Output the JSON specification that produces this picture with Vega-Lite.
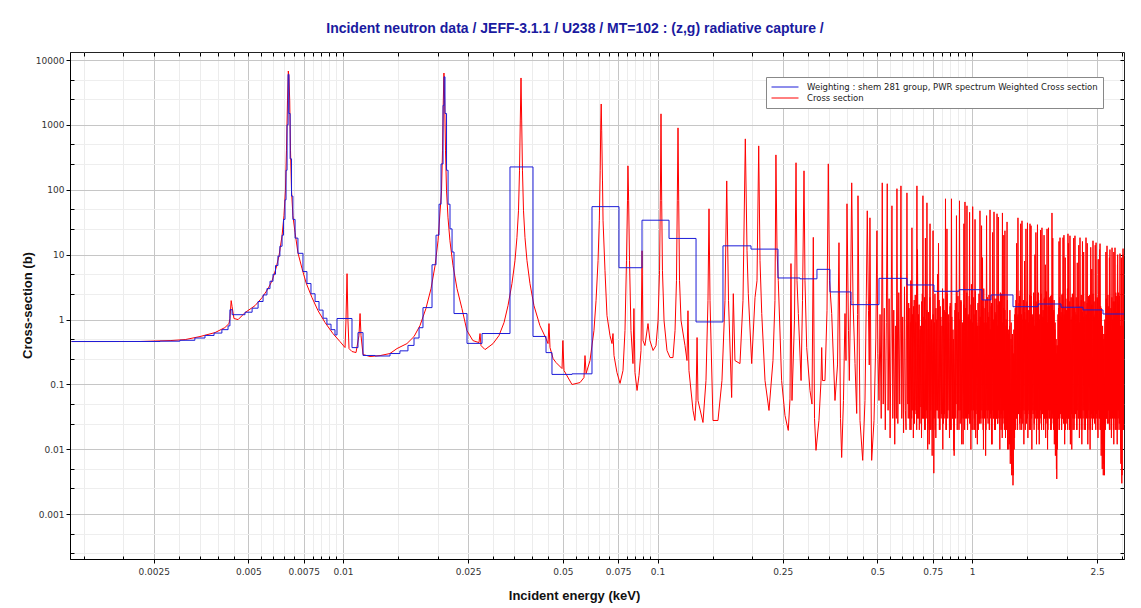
{
"$schema": "https://vega.github.io/schema/vega-lite/v6.json",
"width": 1054, "height": 507,
"autosize": {"type": "none"},
"padding": {"left": 70, "top": 52, "right": 17, "bottom": 49},
"background": "white",
"config": {"view": {"stroke": "#222", "strokeWidth": 1}},
"title": {"text": "Incident neutron data / JEFF-3.1.1 / U238 / MT=102 : (z,g) radiative capture /", "font": "Liberation Sans", "fontSize": 14, "fontWeight": "bold", "color": "#1a1aa0", "anchor": "middle", "dx": -22, "offset": 16},
"datasets": {
"pointwise": [
{"energy":0.00137,"xs":0.459},{"energy":0.00169,"xs":0.459},{"energy":0.00226,"xs":0.46},{"energy":0.00282,"xs":0.475},{"energy":0.00315,"xs":0.492},{"energy":0.00351,"xs":0.548},{"energy":0.00392,"xs":0.631},{"energy":0.00421,"xs":0.753},{"energy":0.00434,"xs":0.868},{"energy":0.00437,"xs":1.04},{"energy":0.00441,"xs":1.96},{"energy":0.00444,"xs":1.58},{"energy":0.0045,"xs":1.04},{"energy":0.00464,"xs":1.0},{"energy":0.00488,"xs":1.28},{"energy":0.00525,"xs":1.64},{"energy":0.00553,"xs":2.18},{"energy":0.00578,"xs":3.0},{"energy":0.00595,"xs":3.98},{"energy":0.00612,"xs":6.1},{"energy":0.00626,"xs":9.66},{"energy":0.0064,"xs":19.6},{"energy":0.00649,"xs":39.8},{"energy":0.00656,"xs":96.5},{"energy":0.00661,"xs":398},{"energy":0.00666,"xs":2340},{"energy":0.0067,"xs":6770},{"energy":0.00673,"xs":5670},{"energy":0.00677,"xs":2340},{"energy":0.00681,"xs":398},{"energy":0.00686,"xs":96.5},{"energy":0.00693,"xs":39.8},{"energy":0.00704,"xs":21.8},{"energy":0.00719,"xs":10.7},{"energy":0.00741,"xs":6.1},{"energy":0.00763,"xs":3.7},{"energy":0.00797,"xs":2.18},{"energy":0.00833,"xs":1.37},{"energy":0.00877,"xs":0.9},{"energy":0.00929,"xs":0.609},{"energy":0.00978,"xs":0.459},
{"energy":0.01015,"xs":0.371},{"energy":0.01022,"xs":0.966},{"energy":0.0103,"xs":5.1},{"energy":0.01037,"xs":0.966},{"energy":0.01045,"xs":0.358},{"energy":0.01068,"xs":0.322},{"energy":0.011,"xs":0.311},{"energy":0.01124,"xs":0.567},{"energy":0.01133,"xs":1.24},{"energy":0.01141,"xs":0.567},{"energy":0.01158,"xs":0.29},{"energy":0.01219,"xs":0.27},{"energy":0.01312,"xs":0.279},{"energy":0.0141,"xs":0.3},{"energy":0.01485,"xs":0.358},{"energy":0.01597,"xs":0.427},{"energy":0.01682,"xs":0.548},{"energy":0.01757,"xs":0.809},{"energy":0.01835,"xs":1.48},{"energy":0.01905,"xs":3.0},{"energy":0.01962,"xs":6.77},{"energy":0.02005,"xs":16.4},{"energy":0.02057,"xs":96.5},{"energy":0.02072,"xs":398},{"energy":0.02084,"xs":2340},{"energy":0.02094,"xs":6300},{"energy":0.02105,"xs":2340},{"energy":0.02118,"xs":398},{"energy":0.02134,"xs":96.5},{"energy":0.02157,"xs":37},{"energy":0.02188,"xs":16.4},{"energy":0.02238,"xs":6.77},{"energy":0.02304,"xs":3.0},{"energy":0.02389,"xs":1.48},{"energy":0.02477,"xs":0.678},{"energy":0.02588,"xs":0.475},{"energy":0.02706,"xs":0.442},{"energy":0.02727,"xs":0.609},{"energy":0.02747,"xs":0.398},{"energy":0.02829,"xs":0.345},{"energy":0.03,"xs":0.427},{"energy":0.03133,"xs":0.567},{"energy":0.03251,"xs":0.9},{"energy":0.03347,"xs":1.64},{"energy":0.03445,"xs":3.58},{"energy":0.03522,"xs":8.09},{"energy":0.03573,"xs":18.3},{"energy":0.03614,"xs":47.5},{"energy":0.03641,"xs":196},{"energy":0.03662,"xs":1150},{"energy":0.03681,"xs":5290},{"energy":0.037,"xs":1150},{"energy":0.03721,"xs":196},{"energy":0.03749,"xs":47.5},{"energy":0.0379,"xs":18.3},{"energy":0.03846,"xs":8.09},{"energy":0.03931,"xs":3.58},{"energy":0.04048,"xs":1.64},{"energy":0.04227,"xs":0.809},{"energy":0.04421,"xs":0.51},{"energy":0.04486,"xs":0.427},{"energy":0.04518,"xs":0.868},{"energy":0.04552,"xs":0.371},{"energy":0.04656,"xs":0.251},{"energy":0.04757,"xs":0.218},{"energy":0.04971,"xs":0.176},{"energy":0.05,"xs":0.475},{"energy":0.05044,"xs":0.164},{"energy":0.05346,"xs":0.1},{"energy":0.05671,"xs":0.107},{"energy":0.05837,"xs":0.128},{"energy":0.05881,"xs":0.279},{"energy":0.0593,"xs":0.148},{"energy":0.06101,"xs":0.234},{"energy":0.0628,"xs":0.678},{"energy":0.06376,"xs":1.96},{"energy":0.06471,"xs":8.09},{"energy":0.06531,"xs":33.3},{"energy":0.06574,"xs":196},{"energy":0.06603,"xs":1150},{"energy":0.06622,"xs":2100},{"energy":0.06646,"xs":809},{"energy":0.06685,"xs":137},{"energy":0.06712,"xs":33.3},{"energy":0.06808,"xs":5.67},{"energy":0.06909,"xs":1.15},{"energy":0.07063,"xs":0.567},{"energy":0.07166,"xs":0.427},{"energy":0.07219,"xs":0.609},{"energy":0.07273,"xs":0.279},{"energy":0.07432,"xs":0.153},{"energy":0.07601,"xs":0.104},{"energy":0.07767,"xs":0.164},{"energy":0.07882,"xs":0.678},{"energy":0.07969,"xs":8.09},{"energy":0.08027,"xs":67.7},{"energy":0.08054,"xs":234},{"energy":0.08096,"xs":67.7},{"energy":0.08147,"xs":8.09},{"energy":0.08235,"xs":0.678},{"energy":0.08356,"xs":0.21},{"energy":0.08414,"xs":1.48},{"energy":0.08479,"xs":0.153},{"energy":0.0861,"xs":0.0809},{"energy":0.08734,"xs":0.138},{"energy":0.08862,"xs":0.334},{"energy":0.08931,"xs":11.5},{"energy":0.08993,"xs":0.475},{"energy":0.0912,"xs":0.398},{"energy":0.09328,"xs":0.868},{"energy":0.09462,"xs":0.475},{"energy":0.09679,"xs":0.334},{"energy":0.0989,"xs":0.398},{"energy":0.1004,"xs":0.966},{"energy":0.1015,"xs":5.67},{"energy":0.1021,"xs":67.7},{"energy":0.1026,"xs":1480},{"energy":0.1031,"xs":67.7},{"energy":0.1037,"xs":5.67},{"energy":0.1049,"xs":0.966},{"energy":0.1072,"xs":0.334},{"energy":0.1096,"xs":0.26},{"energy":0.112,"xs":0.26},{"energy":0.1137,"xs":0.678},{"energy":0.1149,"xs":3.98},{"energy":0.1156,"xs":67.7},{"energy":0.1162,"xs":900},{"energy":0.1168,"xs":67.7},{"energy":0.1175,"xs":3.98},{"energy":0.1188,"xs":0.966},{"energy":0.1223,"xs":0.398},{"energy":0.1241,"xs":0.234},{"energy":0.125,"xs":1.37},{"energy":0.1259,"xs":0.164},{"energy":0.1297,"xs":0.0398},{"energy":0.1315,"xs":0.0279},{"energy":0.1326,"xs":0.0567},{"energy":0.1336,"xs":0.529},{"energy":0.1345,"xs":0.0567},{"energy":0.1395,"xs":0.026},{"energy":0.1426,"xs":0.115},{"energy":0.1447,"xs":1.96},{"energy":0.1458,"xs":51},{"energy":0.1469,"xs":1.96},{"energy":0.1501,"xs":0.0279},{"energy":0.1557,"xs":0.0279},{"energy":0.1603,"xs":0.115},{"energy":0.1639,"xs":1.96},{"energy":0.166,"xs":137},{"energy":0.1682,"xs":1.96},{"energy":0.1721,"xs":0.063},{"energy":0.1742,"xs":2.51},{"energy":0.1763,"xs":0.234},{"energy":0.1829,"xs":0.21},{"energy":0.187,"xs":1.96},{"energy":0.1902,"xs":609},{"energy":0.1926,"xs":11.5},{"energy":0.1944,"xs":2.51},{"energy":0.1993,"xs":0.21},{"energy":0.2042,"xs":2.18},{"energy":0.2072,"xs":3.98},{"energy":0.2098,"xs":475},{"energy":0.2118,"xs":8.09},{"energy":0.2145,"xs":1.24},{"energy":0.2197,"xs":0.115},{"energy":0.2262,"xs":0.0398},{"energy":0.2329,"xs":0.234},{"energy":0.2363,"xs":1.96},{"energy":0.238,"xs":345},{"energy":0.2399,"xs":11.5},{"energy":0.2421,"xs":3.98},{"energy":0.2481,"xs":0.115},{"energy":0.2543,"xs":0.0334},{"energy":0.2605,"xs":0.0196},{"energy":0.2638,"xs":0.06},{"energy":0.2657,"xs":7.3},{"energy":0.2677,"xs":0.0567},{"energy":0.2726,"xs":0.966},{"energy":0.2757,"xs":261},{"energy":0.2777,"xs":3.98},{"energy":0.2804,"xs":1.24},{"energy":0.2861,"xs":0.115},{"energy":0.2891,"xs":1.96},{"energy":0.2923,"xs":196},{"energy":0.2944,"xs":3.98},{"energy":0.2981,"xs":0.371},{"energy":0.3054,"xs":0.0809},{"energy":0.3099,"xs":0.05},{"energy":0.3129,"xs":18.5},{"energy":0.3157,"xs":0.03},{"energy":0.3191,"xs":0.00966},{"energy":0.3261,"xs":0.0279},{"energy":0.3311,"xs":0.115},{"energy":0.3327,"xs":0.371},{"energy":0.3347,"xs":0.115},{"energy":0.3408,"xs":0.115},{"energy":0.3459,"xs":1.37},{"energy":0.3492,"xs":251},{"energy":0.3523,"xs":3.98},{"energy":0.358,"xs":1.24},{"energy":0.3667,"xs":0.0567},{"energy":0.3736,"xs":0.2},{"energy":0.3776,"xs":15.3},{"energy":0.3818,"xs":0.03},{"energy":0.3851,"xs":0.0075},{"energy":0.3902,"xs":0.0567},{"energy":0.3946,"xs":1.24},{"energy":0.3975,"xs":0.234},{"energy":0.4004,"xs":60.9},{"energy":0.4048,"xs":0.678},{"energy":0.4073,"xs":0.115},{"energy":0.4109,"xs":1.96},{"energy":0.4145,"xs":128},{"energy":0.4184,"xs":1.96},{"energy":0.4246,"xs":0.21},{"energy":0.4299,"xs":0.0358},{"energy":0.4327,"xs":1.2},{"energy":0.434,"xs":81},{"energy":0.4372,"xs":1.0},{"energy":0.4404,"xs":0.0279},{"energy":0.4492,"xs":0.00678},{"energy":0.4568,"xs":0.0567},{"energy":0.4611,"xs":1.96},{"energy":0.4645,"xs":47.5},{"energy":0.4686,"xs":1.37},{"energy":0.4713,"xs":0.2},{"energy":0.4737,"xs":37},{"energy":0.4772,"xs":0.1},{"energy":0.4797,"xs":0.00678},{"energy":0.488,"xs":0.0279},{"energy":0.4945,"xs":0.5},{"energy":0.4985,"xs":23.4},{"energy":0.5022,"xs":0.3},{"energy":0.5061,"xs":0.0567},
{"energy":0.51,"xs":1.2},{"energy":0.5145,"xs":0.03},{"energy":0.5184,"xs":128},{"energy":0.522,"xs":0.05},{"energy":0.526,"xs":1.5},{"energy":0.53,"xs":0.02},{"energy":0.534,"xs":0.9},{"energy":0.5377,"xs":124},{"energy":0.541,"xs":0.04},{"energy":0.545,"xs":2.1},{"energy":0.549,"xs":0.015},{"energy":0.553,"xs":0.6},{"energy":0.5565,"xs":56.7},{"energy":0.56,"xs":0.03},{"energy":0.564,"xs":1.4},{"energy":0.568,"xs":0.012},{"energy":0.572,"xs":0.8},{"energy":0.5745,"xs":0.03},{"energy":0.5772,"xs":104},{"energy":0.581,"xs":0.025},{"energy":0.585,"xs":2.6},{"energy":0.589,"xs":0.05},{"energy":0.5915,"xs":0.6},{"energy":0.5944,"xs":115},{"energy":0.598,"xs":0.03},{"energy":0.602,"xs":1.1},{"energy":0.606,"xs":0.018},{"energy":0.61,"xs":3.2},{"energy":0.614,"xs":0.04},{"energy":0.617,"xs":0.02},{"energy":0.6211,"xs":89.7},{"energy":0.625,"xs":0.05},{"energy":0.629,"xs":1.8},{"energy":0.633,"xs":0.03},{"energy":0.637,"xs":0.9},{"energy":0.64,"xs":0.02},{"energy":0.6442,"xs":26},{"energy":0.648,"xs":0.04},{"energy":0.652,"xs":1.6},{"energy":0.656,"xs":0.025},{"energy":0.66,"xs":2.4},{"energy":0.664,"xs":0.035},{"energy":0.6682,"xs":115},{"energy":0.672,"xs":0.03},{"energy":0.676,"xs":1.2},{"energy":0.68,"xs":0.02},{"energy":0.684,"xs":0.7},{"energy":0.688,"xs":0.045},{"energy":0.692,"xs":1.9},{"energy":0.695,"xs":0.03},{"energy":0.6982,"xs":81},{"energy":0.702,"xs":0.03},{"energy":0.706,"xs":2.2},{"energy":0.71,"xs":0.02},{"energy":0.714,"xs":1.0},{"energy":0.716,"xs":0.04},{"energy":0.719,"xs":63},{"energy":0.723,"xs":0.025},{"energy":0.727,"xs":1.3},{"energy":0.731,"xs":0.012},{"energy":0.7354,"xs":30},{"energy":0.739,"xs":0.02},{"energy":0.743,"xs":0.8},{"energy":0.747,"xs":0.008},{"energy":0.7518,"xs":23.4},{"energy":0.756,"xs":0.0043},{"energy":0.76,"xs":0.9},{"energy":0.764,"xs":0.02},{"energy":0.768,"xs":1.5},{"energy":0.7724,"xs":0.04},{"energy":0.777,"xs":5.0},{"energy":0.781,"xs":0.03},{"energy":0.786,"xs":2.0},{"energy":0.791,"xs":0.02},{"energy":0.796,"xs":1.1},{"energy":0.801,"xs":0.035},{"energy":0.806,"xs":3.0},{"energy":0.811,"xs":0.025},{"energy":0.816,"xs":1.4},{"energy":0.82,"xs":0.03},{"energy":0.8236,"xs":72.7},{"energy":0.828,"xs":0.02},{"energy":0.833,"xs":2.5},{"energy":0.838,"xs":0.04},{"energy":0.843,"xs":1.2},{"energy":0.848,"xs":0.015},{"energy":0.852,"xs":1.6},{"energy":0.856,"xs":0.02},{"energy":0.8605,"xs":72.7},{"energy":0.865,"xs":0.03},{"energy":0.87,"xs":0.7},{"energy":0.875,"xs":0.0097},{"energy":0.88,"xs":0.03},{"energy":0.885,"xs":1.8},{"energy":0.89,"xs":0.05},{"energy":0.895,"xs":2.8},{"energy":0.9,"xs":0.03},{"energy":0.905,"xs":1.3},{"energy":0.909,"xs":0.02},{"energy":0.9125,"xs":67.7},{"energy":0.917,"xs":0.04},{"energy":0.922,"xs":2.0},{"energy":0.927,"xs":0.03},{"energy":0.932,"xs":0.9},{"energy":0.937,"xs":0.012},{"energy":0.942,"xs":1.7},{"energy":0.946,"xs":0.04},{"energy":0.9499,"xs":65},{"energy":0.954,"xs":0.03},{"energy":0.9585,"xs":1.5},{"energy":0.961,"xs":0.03},{"energy":0.9639,"xs":56.7},{"energy":0.968,"xs":0.02},{"energy":0.972,"xs":1.1},{"energy":0.976,"xs":0.035},{"energy":0.98,"xs":2.3},{"energy":0.984,"xs":0.025},{"energy":0.988,"xs":1.0},{"energy":0.992,"xs":0.01},{"energy":0.996,"xs":3.5},{"energy":1.0,"xs":0.02},{"energy":1.005,"xs":55},{"energy":1.01,"xs":0.04},{"energy":1.015,"xs":1.2},{"energy":1.02,"xs":0.02},{"energy":1.025,"xs":2.7},{"energy":1.03,"xs":0.035},{"energy":1.035,"xs":0.9},{"energy":1.04,"xs":0.012},{"energy":1.045,"xs":1.8},{"energy":1.05,"xs":0.03},{"energy":1.055,"xs":0.8},{"energy":1.0575,"xs":0.025},{"energy":1.06,"xs":47.5},{"energy":1.065,"xs":0.03},{"energy":1.07,"xs":2.0},{"energy":1.075,"xs":0.04},{"energy":1.08,"xs":9.0},{"energy":1.085,"xs":0.02},{"energy":1.09,"xs":3.0},{"energy":1.095,"xs":0.03},{"energy":1.1,"xs":1.5},{"energy":1.105,"xs":0.008},{"energy":1.11,"xs":0.9},{"energy":1.115,"xs":0.04},{"energy":1.12,"xs":2.2},{"energy":1.125,"xs":0.025},{"energy":1.13,"xs":1.1},{"energy":1.135,"xs":0.02},{"energy":1.141,"xs":49},{"energy":1.146,"xs":0.035},{"energy":1.151,"xs":1.6},{"energy":1.156,"xs":0.012},{"energy":1.161,"xs":2.4},{"energy":1.166,"xs":0.04},{"energy":1.17,"xs":0.9},{"energy":1.1725,"xs":0.03},{"energy":1.1748,"xs":45.7},{"energy":1.179,"xs":0.02},{"energy":1.184,"xs":1.3},{"energy":1.189,"xs":0.035},{"energy":1.194,"xs":2.1},{"energy":1.197,"xs":0.03},{"energy":1.2011,"xs":42.8},{"energy":1.206,"xs":0.025},{"energy":1.211,"xs":1.7},{"energy":1.216,"xs":0.04},{"energy":1.221,"xs":0.8},{"energy":1.226,"xs":0.01},{"energy":1.231,"xs":2.6},{"energy":1.236,"xs":0.03},{"energy":1.241,"xs":1.2},{"energy":1.245,"xs":0.02},{"energy":1.2496,"xs":44},{"energy":1.255,"xs":0.03},{"energy":1.26,"xs":1.5},{"energy":1.265,"xs":0.025},{"energy":1.2728,"xs":23.4},{"energy":1.278,"xs":0.015},{"energy":1.284,"xs":1.0},{"energy":1.29,"xs":0.03},{"energy":1.296,"xs":2.0},{"energy":1.302,"xs":0.02},{"energy":1.308,"xs":0.7},{"energy":1.314,"xs":0.012},{"energy":1.32,"xs":1.4},{"energy":1.326,"xs":0.008},{"energy":1.332,"xs":0.9},{"energy":1.338,"xs":0.005},{"energy":1.344,"xs":0.6},{"energy":1.35,"xs":0.0028},{"energy":1.356,"xs":0.3},{"energy":1.362,"xs":0.01},{"energy":1.368,"xs":1.2},{"energy":1.374,"xs":0.02},{"energy":1.38,"xs":2.0},{"energy":1.386,"xs":0.03},{"energy":1.392,"xs":1.1},{"energy":1.396,"xs":0.02},{"energy":1.4,"xs":37},{"energy":1.406,"xs":0.035},{"energy":1.412,"xs":1.8},{"energy":1.418,"xs":0.025},{"energy":1.424,"xs":2.8},{"energy":1.43,"xs":0.03},{"energy":1.436,"xs":1.2},{"energy":1.439,"xs":0.02},{"energy":1.442,"xs":33.3},{"energy":1.448,"xs":0.04},{"energy":1.455,"xs":1.5},{"energy":1.462,"xs":0.012},{"energy":1.469,"xs":8.0},{"energy":1.476,"xs":0.035},{"energy":1.483,"xs":1.0},{"energy":1.49,"xs":0.025},{"energy":1.496,"xs":1.9},{"energy":1.499,"xs":0.03},{"energy":1.501,"xs":31},{"energy":1.508,"xs":0.04},{"energy":1.515,"xs":1.4},{"energy":1.522,"xs":0.02},{"energy":1.529,"xs":30},{"energy":1.536,"xs":0.03},{"energy":1.543,"xs":2.3},{"energy":1.55,"xs":0.01},{"energy":1.557,"xs":1.1},{"energy":1.564,"xs":0.035},{"energy":1.571,"xs":2.6},{"energy":1.578,"xs":0.025},{"energy":1.585,"xs":10.0},{"energy":1.592,"xs":0.04},{"energy":1.599,"xs":1.9},{"energy":1.606,"xs":0.02},{"energy":1.611,"xs":0.9},{"energy":1.613,"xs":0.03},{"energy":1.615,"xs":29},{"energy":1.622,"xs":0.03},{"energy":1.629,"xs":2.0},{"energy":1.636,"xs":0.012},{"energy":1.643,"xs":1.2},{"energy":1.65,"xs":0.04},{"energy":1.657,"xs":2.5},{"energy":1.663,"xs":0.02},{"energy":1.669,"xs":26},{"energy":1.676,"xs":0.035},{"energy":1.683,"xs":1.4},{"energy":1.69,"xs":0.02},{"energy":1.697,"xs":2.1},{"energy":1.704,"xs":0.03},{"energy":1.711,"xs":7.0},{"energy":1.718,"xs":0.025},{"energy":1.725,"xs":2.7},{"energy":1.729,"xs":0.03},{"energy":1.732,"xs":25},{"energy":1.739,"xs":0.01},{"energy":1.746,"xs":1.6},{"energy":1.753,"xs":0.04},{"energy":1.76,"xs":2.2},{"energy":1.767,"xs":0.03},{"energy":1.774,"xs":1.1},{"energy":1.781,"xs":0.02},{"energy":1.788,"xs":2.4},{"energy":1.792,"xs":0.03},{"energy":1.796,"xs":44},{"energy":1.803,"xs":0.035},{"energy":1.81,"xs":1.3},{"energy":1.817,"xs":0.02},{"energy":1.824,"xs":2.0},{"energy":1.831,"xs":0.015},{"energy":1.838,"xs":0.9},{"energy":1.845,"xs":0.01},{"energy":1.852,"xs":0.5},{"energy":1.86,"xs":0.0035},{"energy":1.868,"xs":0.4},{"energy":1.876,"xs":0.02},{"energy":1.884,"xs":1.5},{"energy":1.892,"xs":0.03},{"energy":1.899,"xs":2.2},{"energy":1.902,"xs":0.03},{"energy":1.905,"xs":18.3},{"energy":1.912,"xs":0.04},{"energy":1.92,"xs":1.3},{"energy":1.928,"xs":0.02},{"energy":1.936,"xs":2.5},{"energy":1.941,"xs":0.03},{"energy":1.947,"xs":18.3},{"energy":1.955,"xs":0.035},{"energy":1.963,"xs":1.2},{"energy":1.971,"xs":0.012},{"energy":1.979,"xs":9.0},{"energy":1.987,"xs":0.04},{"energy":1.995,"xs":1.4},{"energy":2.003,"xs":0.025},{"energy":2.011,"xs":3.0},{"energy":2.015,"xs":0.03},{"energy":2.019,"xs":21},{"energy":2.027,"xs":0.03},{"energy":2.035,"xs":1.6},{"energy":2.042,"xs":0.02},{"energy":2.049,"xs":19.6},{"energy":2.058,"xs":0.04},{"energy":2.067,"xs":2.2},{"energy":2.076,"xs":0.01},{"energy":2.085,"xs":1.1},{"energy":2.094,"xs":0.03},{"energy":2.103,"xs":2.8},{"energy":2.112,"xs":0.02},{"energy":2.118,"xs":1.5},{"energy":2.121,"xs":0.03},{"energy":2.125,"xs":19.6},{"energy":2.134,"xs":0.035},{"energy":2.143,"xs":1.2},{"energy":2.152,"xs":0.02},{"energy":2.161,"xs":7.5},{"energy":2.17,"xs":0.04},{"energy":2.179,"xs":1.7},{"energy":2.188,"xs":0.03},{"energy":2.196,"xs":0.9},{"energy":2.2,"xs":0.02},{"energy":2.205,"xs":18.3},{"energy":2.215,"xs":0.03},{"energy":2.225,"xs":2.0},{"energy":2.235,"xs":0.012},{"energy":2.245,"xs":1.3},{"energy":2.255,"xs":0.04},{"energy":2.265,"xs":11.0},{"energy":2.275,"xs":0.02},{"energy":2.285,"xs":1.4},{"energy":2.295,"xs":0.03},{"energy":2.304,"xs":18.3},{"energy":2.314,"xs":0.035},{"energy":2.324,"xs":1.8},{"energy":2.334,"xs":0.02},{"energy":2.344,"xs":1.0},{"energy":2.354,"xs":0.04},{"energy":2.364,"xs":2.4},{"energy":2.374,"xs":0.01},{"energy":2.384,"xs":1.5},{"energy":2.394,"xs":0.03},{"energy":2.404,"xs":6.0},{"energy":2.414,"xs":0.02},{"energy":2.42,"xs":0.03},{"energy":2.425,"xs":16.4},{"energy":2.435,"xs":0.04},{"energy":2.445,"xs":1.9},{"energy":2.455,"xs":0.025},{"energy":2.465,"xs":1.2},{"energy":2.472,"xs":0.03},{"energy":2.48,"xs":15.3},{"energy":2.49,"xs":0.035},{"energy":2.5,"xs":2.2},{"energy":2.51,"xs":0.02},{"energy":2.52,"xs":8.5},{"energy":2.53,"xs":0.04},{"energy":2.54,"xs":2.7},{"energy":2.547,"xs":0.03},{"energy":2.553,"xs":14.8},{"energy":2.565,"xs":0.02},{"energy":2.577,"xs":1.5},{"energy":2.589,"xs":0.012},{"energy":2.601,"xs":0.8},{"energy":2.613,"xs":0.006},{"energy":2.625,"xs":0.5},{"energy":2.637,"xs":0.004},{"energy":2.649,"xs":0.6},{"energy":2.661,"xs":0.03},{"energy":2.673,"xs":2.1},{"energy":2.68,"xs":0.03},{"energy":2.687,"xs":13.7},{"energy":2.699,"xs":0.04},{"energy":2.711,"xs":1.6},{"energy":2.723,"xs":0.025},{"energy":2.735,"xs":9.0},{"energy":2.747,"xs":0.03},{"energy":2.759,"xs":1.2},{"energy":2.77,"xs":0.02},{"energy":2.788,"xs":12.8},{"energy":2.8,"xs":0.035},{"energy":2.812,"xs":1.9},{"energy":2.824,"xs":0.012},{"energy":2.836,"xs":1.1},{"energy":2.842,"xs":0.03},{"energy":2.849,"xs":12.8},{"energy":2.862,"xs":0.03},{"energy":2.875,"xs":2.3},{"energy":2.888,"xs":0.02},{"energy":2.901,"xs":7.0},{"energy":2.914,"xs":0.04},{"energy":2.927,"xs":2.6},{"energy":2.94,"xs":0.025},{"energy":2.955,"xs":10.4},{"energy":2.97,"xs":0.01},{"energy":2.985,"xs":0.9},{"energy":3.0,"xs":0.004},{"energy":3.015,"xs":1.5},{"energy":3.022,"xs":12.4},{"energy":3.03,"xs":0.02},{"energy":3.043,"xs":3.0}
],
"pointwise_fine": [
{"energy":0.623,"xs":0.8},{"energy":0.627,"xs":0.03},{"energy":0.631,"xs":1.5},{"energy":0.635,"xs":0.02},{"energy":0.639,"xs":4.0},{"energy":0.643,"xs":0.03},{"energy":0.647,"xs":1.2},{"energy":0.651,"xs":0.015},{"energy":0.655,"xs":2.0},{"energy":0.659,"xs":0.04},{"energy":0.663,"xs":0.9},{"energy":0.667,"xs":0.02},{"energy":0.671,"xs":12},{"energy":0.675,"xs":0.03},{"energy":0.679,"xs":1.7},{"energy":0.683,"xs":0.025},{"energy":0.687,"xs":0.8},{"energy":0.691,"xs":0.015},{"energy":0.695,"xs":2.5},{"energy":0.699,"xs":0.03},{"energy":0.703,"xs":1.1},{"energy":0.707,"xs":0.02},{"energy":0.711,"xs":18},{"energy":0.715,"xs":0.03},{"energy":0.719,"xs":1.4},{"energy":0.723,"xs":0.01},{"energy":0.727,"xs":0.7},{"energy":0.731,"xs":0.02},{"energy":0.735,"xs":2.2},{"energy":0.739,"xs":0.04},{"energy":0.743,"xs":1.0},{"energy":0.747,"xs":0.02},
{"energy":0.7525,"xs":1.2},{"energy":0.7575,"xs":0.03},{"energy":0.7625,"xs":2.5},{"energy":0.7675,"xs":0.015},{"energy":0.7725,"xs":1.0},{"energy":0.7775,"xs":0.04},{"energy":0.7825,"xs":15},{"energy":0.7875,"xs":0.02},{"energy":0.7925,"xs":1.6},{"energy":0.7975,"xs":0.03},{"energy":0.8025,"xs":0.8},{"energy":0.8075,"xs":0.01},{"energy":0.8125,"xs":2.1},{"energy":0.8175,"xs":0.035},{"energy":0.8225,"xs":1.3},{"energy":0.8275,"xs":0.02},{"energy":0.8325,"xs":25},{"energy":0.8375,"xs":0.03},{"energy":0.8425,"xs":0.9},{"energy":0.8475,"xs":0.04},{"energy":0.8525,"xs":1.8},{"energy":0.8575,"xs":0.02},{"energy":0.8625,"xs":1.1},{"energy":0.8675,"xs":0.03},{"energy":0.8725,"xs":0.5},{"energy":0.8775,"xs":0.008},{"energy":0.8825,"xs":1.4},{"energy":0.8875,"xs":0.03},{"energy":0.8925,"xs":40},{"energy":0.8975,"xs":0.02},{"energy":0.9025,"xs":2.3},{"energy":0.9075,"xs":0.04},{"energy":0.9125,"xs":1.0},{"energy":0.9175,"xs":0.025},{"energy":0.9225,"xs":1.9},{"energy":0.9275,"xs":0.012},{"energy":0.9325,"xs":0.8},{"energy":0.9375,"xs":0.03},{"energy":0.9425,"xs":30},{"energy":0.9475,"xs":0.02},{"energy":0.9525,"xs":1.5},{"energy":0.9575,"xs":0.035},{"energy":0.9625,"xs":2.6},{"energy":0.9675,"xs":0.02},{"energy":0.9725,"xs":1.2},{"energy":0.9775,"xs":0.03},{"energy":0.9825,"xs":45},{"energy":0.9875,"xs":0.025},{"energy":0.9925,"xs":1.7},{"energy":0.9975,"xs":0.04},
{"energy":1.0025,"xs":0.9},{"energy":1.0075,"xs":0.02},{"energy":1.0125,"xs":2.2},{"energy":1.0175,"xs":0.03},{"energy":1.0225,"xs":35},{"energy":1.0275,"xs":0.015},{"energy":1.0325,"xs":1.4},{"energy":1.0375,"xs":0.04},{"energy":1.0425,"xs":0.8},{"energy":1.0475,"xs":0.02},{"energy":1.0525,"xs":2.5},{"energy":1.0575,"xs":0.03},{"energy":1.0625,"xs":1.1},{"energy":1.0675,"xs":0.025},{"energy":1.0725,"xs":28},{"energy":1.0775,"xs":0.03},{"energy":1.0825,"xs":1.6},{"energy":1.0875,"xs":0.01},{"energy":1.0925,"xs":0.9},{"energy":1.0975,"xs":0.035},{"energy":1.1025,"xs":2.0},{"energy":1.1075,"xs":0.02},{"energy":1.1125,"xs":40},{"energy":1.1175,"xs":0.03},{"energy":1.1225,"xs":1.3},{"energy":1.1275,"xs":0.04},{"energy":1.1325,"xs":2.4},{"energy":1.1375,"xs":0.02},{"energy":1.1425,"xs":0.7},{"energy":1.1475,"xs":0.03},{"energy":1.1525,"xs":1.8},{"energy":1.1575,"xs":0.012},{"energy":1.1625,"xs":22},{"energy":1.1675,"xs":0.03},{"energy":1.1725,"xs":1.0},{"energy":1.1775,"xs":0.04},{"energy":1.1825,"xs":2.1},{"energy":1.1875,"xs":0.02},{"energy":1.1925,"xs":1.2},{"energy":1.1975,"xs":0.03},{"energy":1.2025,"xs":0.8},{"energy":1.2075,"xs":0.025},{"energy":1.2125,"xs":38},{"energy":1.2175,"xs":0.03},{"energy":1.2225,"xs":1.9},{"energy":1.2275,"xs":0.02},{"energy":1.2325,"xs":1.1},{"energy":1.2375,"xs":0.035},{"energy":1.2425,"xs":2.5},{"energy":1.2475,"xs":0.015},{"energy":1.2525,"xs":0.9},{"energy":1.2575,"xs":0.04},{"energy":1.2625,"xs":20},{"energy":1.2675,"xs":0.02},{"energy":1.2725,"xs":1.4},{"energy":1.2775,"xs":0.03},{"energy":1.2825,"xs":0.8},{"energy":1.2875,"xs":0.02},{"energy":1.2925,"xs":32},{"energy":1.2975,"xs":0.01},{"energy":1.3025,"xs":0.6},
{"energy":1.3095,"xs":0.01},{"energy":1.3165,"xs":0.8},{"energy":1.3235,"xs":0.006},{"energy":1.3305,"xs":0.5},{"energy":1.3375,"xs":0.004},{"energy":1.3445,"xs":0.4},{"energy":1.3515,"xs":0.004},{"energy":1.3585,"xs":0.7},{"energy":1.3655,"xs":0.015},{"energy":1.3725,"xs":1.5},{"energy":1.3795,"xs":0.03},{"energy":1.3865,"xs":15},{"energy":1.3935,"xs":0.02},{"energy":1.4005,"xs":1.2},{"energy":1.4075,"xs":0.04},{"energy":1.4145,"xs":2.3},{"energy":1.4215,"xs":0.02},{"energy":1.4285,"xs":30},{"energy":1.4355,"xs":0.03},{"energy":1.4425,"xs":1.0},{"energy":1.4495,"xs":0.025},{"energy":1.4565,"xs":2.0},{"energy":1.4635,"xs":0.04},{"energy":1.4705,"xs":1.3},{"energy":1.4775,"xs":0.02},{"energy":1.4845,"xs":25},{"energy":1.4915,"xs":0.03},{"energy":1.4985,"xs":1.7},{"energy":1.5055,"xs":0.015},{"energy":1.5125,"xs":0.9},{"energy":1.5195,"xs":0.035},{"energy":1.5265,"xs":2.4},{"energy":1.5335,"xs":0.02},{"energy":1.5405,"xs":28},{"energy":1.5475,"xs":0.03},{"energy":1.5545,"xs":1.2},{"energy":1.5615,"xs":0.04},{"energy":1.5685,"xs":1.9},{"energy":1.5755,"xs":0.02},{"energy":1.5825,"xs":0.8},{"energy":1.5895,"xs":0.03},{"energy":1.5965,"xs":22},{"energy":1.6035,"xs":0.012},{"energy":1.6105,"xs":1.5},{"energy":1.6175,"xs":0.035},{"energy":1.6245,"xs":2.6},{"energy":1.6315,"xs":0.02},{"energy":1.6385,"xs":1.0},{"energy":1.6455,"xs":0.03},{"energy":1.6525,"xs":24},{"energy":1.6595,"xs":0.025},{"energy":1.6665,"xs":1.8},{"energy":1.6735,"xs":0.04},{"energy":1.6805,"xs":1.1},{"energy":1.6875,"xs":0.02},{"energy":1.6945,"xs":20},{"energy":1.7015,"xs":0.03},{"energy":1.7085,"xs":2.2},{"energy":1.7155,"xs":0.015},{"energy":1.7225,"xs":1.3},{"energy":1.7295,"xs":0.035},{"energy":1.7365,"xs":0.9},{"energy":1.7435,"xs":0.02},{"energy":1.7505,"xs":26},{"energy":1.7575,"xs":0.03},{"energy":1.7645,"xs":1.6},{"energy":1.7715,"xs":0.04},{"energy":1.7785,"xs":2.3},{"energy":1.7855,"xs":0.02},{"energy":1.7925,"xs":1.0},{"energy":1.7995,"xs":0.03},{"energy":1.8065,"xs":18},{"energy":1.8135,"xs":0.025},{"energy":1.8205,"xs":1.4},{"energy":1.8275,"xs":0.012},{"energy":1.8345,"xs":0.7},{"energy":1.8415,"xs":0.008},{"energy":1.8485,"xs":0.4},{"energy":1.8555,"xs":0.005},{"energy":1.8625,"xs":0.3},{"energy":1.8695,"xs":0.01},{"energy":1.8765,"xs":1.2},{"energy":1.8835,"xs":0.03},{"energy":1.8905,"xs":16},{"energy":1.8975,"xs":0.02},{"energy":1.9045,"xs":1.8},{"energy":1.9115,"xs":0.035},{"energy":1.9185,"xs":1.1},{"energy":1.9255,"xs":0.02},{"energy":1.9325,"xs":2.4},{"energy":1.9395,"xs":0.03},{"energy":1.9465,"xs":1.0},{"energy":1.9535,"xs":0.025},{"energy":1.9605,"xs":20},{"energy":1.9675,"xs":0.04},{"energy":1.9745,"xs":1.5},{"energy":1.9815,"xs":0.02},{"energy":1.9885,"xs":2.1},{"energy":1.9955,"xs":0.03},
{"energy":2.005,"xs":1.2},{"energy":2.015,"xs":0.02},{"energy":2.025,"xs":15},{"energy":2.035,"xs":0.03},{"energy":2.045,"xs":1.9},{"energy":2.055,"xs":0.012},{"energy":2.065,"xs":1.0},{"energy":2.075,"xs":0.035},{"energy":2.085,"xs":2.5},{"energy":2.095,"xs":0.02},{"energy":2.105,"xs":18},{"energy":2.115,"xs":0.03},{"energy":2.125,"xs":1.3},{"energy":2.135,"xs":0.04},{"energy":2.145,"xs":2.2},{"energy":2.155,"xs":0.02},{"energy":2.165,"xs":0.9},{"energy":2.175,"xs":0.03},{"energy":2.185,"xs":14},{"energy":2.195,"xs":0.015},{"energy":2.205,"xs":1.6},{"energy":2.215,"xs":0.035},{"energy":2.225,"xs":2.4},{"energy":2.235,"xs":0.02},{"energy":2.245,"xs":16},{"energy":2.255,"xs":0.03},{"energy":2.265,"xs":1.1},{"energy":2.275,"xs":0.04},{"energy":2.285,"xs":1.9},{"energy":2.295,"xs":0.02},{"energy":2.305,"xs":1.2},{"energy":2.315,"xs":0.03},{"energy":2.325,"xs":15},{"energy":2.335,"xs":0.012},{"energy":2.345,"xs":2.3},{"energy":2.355,"xs":0.03},{"energy":2.365,"xs":1.0},{"energy":2.375,"xs":0.02},{"energy":2.385,"xs":13},{"energy":2.395,"xs":0.035},{"energy":2.405,"xs":1.7},{"energy":2.415,"xs":0.02},{"energy":2.425,"xs":2.5},{"energy":2.435,"xs":0.03},{"energy":2.445,"xs":1.1},{"energy":2.455,"xs":0.04},{"energy":2.465,"xs":14},{"energy":2.475,"xs":0.02},{"energy":2.485,"xs":1.4},{"energy":2.495,"xs":0.03},{"energy":2.505,"xs":2.1},{"energy":2.515,"xs":0.015},{"energy":2.525,"xs":0.9},{"energy":2.535,"xs":0.03},{"energy":2.545,"xs":12},{"energy":2.555,"xs":0.02},{"energy":2.565,"xs":1.6},{"energy":2.575,"xs":0.008},{"energy":2.585,"xs":0.6},{"energy":2.595,"xs":0.005},{"energy":2.605,"xs":0.4},{"energy":2.615,"xs":0.004},{"energy":2.625,"xs":0.6},{"energy":2.635,"xs":0.006},{"energy":2.645,"xs":1.0},{"energy":2.655,"xs":0.02},{"energy":2.665,"xs":11},{"energy":2.675,"xs":0.03},{"energy":2.685,"xs":1.8},{"energy":2.695,"xs":0.025},{"energy":2.705,"xs":2.4},{"energy":2.715,"xs":0.04},{"energy":2.725,"xs":1.2},{"energy":2.735,"xs":0.02},{"energy":2.745,"xs":12},{"energy":2.755,"xs":0.03},{"energy":2.765,"xs":1.5},{"energy":2.775,"xs":0.015},{"energy":2.785,"xs":2.2},{"energy":2.795,"xs":0.03},{"energy":2.805,"xs":1.0},{"energy":2.815,"xs":0.02},{"energy":2.825,"xs":11},{"energy":2.835,"xs":0.035},{"energy":2.845,"xs":1.9},{"energy":2.855,"xs":0.02},{"energy":2.865,"xs":2.6},{"energy":2.875,"xs":0.03},{"energy":2.885,"xs":1.3},{"energy":2.895,"xs":0.012},{"energy":2.905,"xs":10},{"energy":2.915,"xs":0.03},{"energy":2.925,"xs":1.7},{"energy":2.935,"xs":0.02},{"energy":2.945,"xs":2.3},{"energy":2.955,"xs":0.03},{"energy":2.965,"xs":0.8},{"energy":2.975,"xs":0.006},{"energy":2.985,"xs":9},{"energy":2.995,"xs":0.003},{"energy":3.005,"xs":0.8},{"energy":3.015,"xs":0.02},{"energy":3.025,"xs":10},{"energy":3.035,"xs":0.03},{"energy":3.043,"xs":1.5}
],
"groupwise": [
{"energy":0.00137,"xs":0.46},{"energy":0.00195,"xs":0.46},{"energy":0.00262,"xs":0.465},{"energy":0.00303,"xs":0.48},{"energy":0.00338,"xs":0.52},{"energy":0.00364,"xs":0.57},{"energy":0.00389,"xs":0.62},{"energy":0.00412,"xs":0.7},{"energy":0.00431,"xs":0.8},{"energy":0.00437,"xs":1.42},{"energy":0.00444,"xs":1.19},{"energy":0.00488,"xs":1.3},{"energy":0.00514,"xs":1.5},{"energy":0.00537,"xs":1.9},{"energy":0.00557,"xs":2.4},{"energy":0.00573,"xs":3.0},{"energy":0.00586,"xs":3.9},{"energy":0.00599,"xs":5.0},{"energy":0.0061,"xs":6.8},{"energy":0.00621,"xs":9.5},{"energy":0.0063,"xs":13.5},{"energy":0.0064,"xs":20},{"energy":0.00647,"xs":35},{"energy":0.00654,"xs":70},{"energy":0.00659,"xs":200},{"energy":0.00664,"xs":1000},{"energy":0.00669,"xs":6000},{"energy":0.00673,"xs":1500},{"energy":0.00679,"xs":300},{"energy":0.00686,"xs":80},{"energy":0.00693,"xs":35},{"energy":0.00704,"xs":18},{"energy":0.00719,"xs":10.5},{"energy":0.00746,"xs":5.5},{"energy":0.00768,"xs":3.6},{"energy":0.00791,"xs":2.5},{"energy":0.00815,"xs":1.9},{"energy":0.00839,"xs":1.4},{"energy":0.00864,"xs":1.05},{"energy":0.00889,"xs":0.85},{"energy":0.00916,"xs":0.7},{"energy":0.00943,"xs":0.58},{"energy":0.00957,"xs":1.04},{"energy":0.01068,"xs":0.37},{"energy":0.01116,"xs":0.63},{"energy":0.01158,"xs":0.28},{"energy":0.01264,"xs":0.275},{"energy":0.01411,"xs":0.3},{"energy":0.01517,"xs":0.33},{"energy":0.01609,"xs":0.4},{"energy":0.01682,"xs":0.52},{"energy":0.01745,"xs":0.75},{"energy":0.01796,"xs":1.53},{"energy":0.01919,"xs":7.0},{"energy":0.01976,"xs":20},{"energy":0.0202,"xs":60},{"energy":0.0205,"xs":250},{"energy":0.0208,"xs":2000},{"energy":0.02095,"xs":5500},{"energy":0.0211,"xs":1500},{"energy":0.02134,"xs":200},{"energy":0.02158,"xs":60},{"energy":0.02189,"xs":25},{"energy":0.02222,"xs":11},{"energy":0.02254,"xs":1.24},{"energy":0.02479,"xs":0.43},{"energy":0.02767,"xs":0.61},{"energy":0.03396,"xs":225},{"energy":0.04019,"xs":0.55},{"energy":0.04421,"xs":0.31},{"energy":0.04618,"xs":0.143},{"energy":0.05348,"xs":0.146},{"energy":0.0619,"xs":55},{"energy":0.07543,"xs":6.3},{"energy":0.08928,"xs":34},{"energy":0.1088,"xs":17.8},{"energy":0.1326,"xs":0.92},{"energy":0.1615,"xs":13.7},{"energy":0.1983,"xs":12.2},{"energy":0.2416,"xs":4.38},{"energy":0.2838,"xs":4.25},{"energy":0.3214,"xs":5.95},{"energy":0.3535,"xs":2.67},{"energy":0.4123,"xs":1.7},{"energy":0.5061,"xs":4.32},{"energy":0.6214,"xs":3.42},{"energy":0.757,"xs":2.73},{"energy":0.9092,"xs":2.89},{"energy":1.076,"xs":2.01},{"energy":1.149,"xs":2.4},{"energy":1.35,"xs":1.58},{"energy":1.622,"xs":1.74},{"energy":1.919,"xs":1.55},{"energy":2.254,"xs":1.41},{"energy":2.609,"xs":1.22},{"energy":3.043,"xs":1.22}
]
},
"layer": [
{
"data": {"name": "pointwise"},
"mark": {"type": "line", "strokeWidth": 1, "clip": true},
"encoding": {
"x": {"field": "energy", "type": "quantitative",
 "scale": {"type": "log", "domain": [0.001355, 3.043], "nice": false, "zero": false},
 "axis": {"orient": "bottom",
  "values": [0.0015,0.002,0.0025,0.003,0.0035,0.004,0.0045,0.005,0.0055,0.006,0.0065,0.007,0.0075,0.008,0.0085,0.009,0.0095,0.01,0.015,0.02,0.025,0.03,0.035,0.04,0.045,0.05,0.055,0.06,0.065,0.07,0.075,0.08,0.085,0.09,0.095,0.1,0.15,0.2,0.25,0.3,0.35,0.4,0.45,0.5,0.55,0.6,0.65,0.7,0.75,0.8,0.85,0.9,0.95,1,1.5,2,2.5,3],
  "grid": true,
  "gridColor": {"condition": {"test": "indexof(['0.0025','0.005','0.0075','0.01','0.025','0.05','0.075','0.1','0.25','0.5','0.75','1','2.5'], format(datum.value,'~g')) >= 0", "value": "#c6c6c6"}, "value": "#ececec"},
  "tickSize": {"condition": {"test": "indexof(['0.0025','0.005','0.0075','0.01','0.025','0.05','0.075','0.1','0.25','0.5','0.75','1','2.5'], format(datum.value,'~g')) >= 0", "value": 4}, "value": -3},
  "tickColor": "#000", "domainColor": "#000",
  "labelExpr": "indexof(['0.0025','0.005','0.0075','0.01','0.025','0.05','0.075','0.1','0.25','0.5','0.75','1','2.5'], format(datum.value,'~g')) >= 0 ? format(datum.value,'~g') : ''",
  "labelFont": "DejaVu Sans", "labelFontSize": 9, "labelColor": "#333", "labelPadding": 4, "labelOverlap": false, "labelFlush": false,
  "title": "Incident energy (keV)", "titleFont": "Liberation Sans", "titleFontSize": 13, "titleFontWeight": "bold", "titleColor": "#111",
  "titleX": 504, "titleY": 40, "titleAlign": "center", "titleBaseline": "alphabetic"}},
"y": {"field": "xs", "type": "quantitative",
 "scale": {"type": "log", "domain": [0.0002047, 13286], "nice": false, "zero": false},
 "axis": {"orient": "left",
  "values": [0.00025,0.0005,0.001,0.0025,0.005,0.01,0.025,0.05,0.1,0.25,0.5,1,2.5,5,10,25,50,100,250,500,1000,2500,5000,10000],
  "grid": true,
  "gridColor": {"condition": {"test": "indexof(['0.001','0.01','0.1','1','10','100','1000','10000'], format(datum.value,'~g')) >= 0", "value": "#c6c6c6"}, "value": "#eeeeee"},
  "tickSize": {"condition": {"test": "indexof(['0.001','0.01','0.1','1','10','100','1000','10000'], format(datum.value,'~g')) >= 0", "value": 4}, "value": -4},
  "tickColor": "#000", "domainColor": "#000",
  "labelExpr": "indexof(['0.001','0.01','0.1','1','10','100','1000','10000'], format(datum.value,'~g')) >= 0 ? format(datum.value,'~g') : ''",
  "labelFont": "DejaVu Sans", "labelFontSize": 9, "labelColor": "#333", "labelPadding": 2, "labelOverlap": false, "labelFlush": false,
  "title": "Cross-section (b)", "titleFont": "Liberation Sans", "titleFontSize": 13, "titleFontWeight": "bold", "titleColor": "#111",
  "titleAngle": -90, "titleX": -39, "titleY": 253, "titleAlign": "center", "titleBaseline": "alphabetic"}},
"color": {"datum": "Cross section", "type": "nominal",
 "scale": {"domain": ["Weighting : shem 281 group, PWR spectrum Weighted Cross section", "Cross section"], "range": ["#1c1cd8", "#ff0000"]},
 "legend": {"orient": "none", "legendX": 696, "legendY": 25, "title": null, "padding": 5, "strokeColor": "#888", "fillColor": "white",
  "symbolType": "M-1,0H5", "symbolSize": 81, "symbolStrokeWidth": 1, "labelOffset": 26, "rowPadding": 1,
  "labelFont": "DejaVu Sans", "labelFontSize": 8.5, "labelColor": "#222", "labelLimit": 400}}
}
},
{
"data": {"name": "pointwise_fine"},
"mark": {"type": "line", "strokeWidth": 1, "clip": true},
"encoding": {
"x": {"field": "energy", "type": "quantitative", "axis": null},
"y": {"field": "xs", "type": "quantitative", "axis": null},
"color": {"datum": "Cross section", "type": "nominal"}
}
},
{
"data": {"name": "groupwise"},
"mark": {"type": "line", "interpolate": "step-after", "strokeWidth": 1, "clip": true},
"encoding": {
"x": {"field": "energy", "type": "quantitative",
 "axis": {"orient": "top", "values": [0.0015,0.002,0.0025,0.003,0.0035,0.004,0.0045,0.005,0.0055,0.006,0.0065,0.007,0.0075,0.008,0.0085,0.009,0.0095,0.01,0.015,0.02,0.025,0.03,0.035,0.04,0.045,0.05,0.055,0.06,0.065,0.07,0.075,0.08,0.085,0.09,0.095,0.1,0.15,0.2,0.25,0.3,0.35,0.4,0.45,0.5,0.55,0.6,0.65,0.7,0.75,0.8,0.85,0.9,0.95,1,1.5,2,2.5,3],
  "labels": false, "title": null, "grid": false, "domain": false, "tickSize": -4, "tickColor": "#000"}},
"y": {"field": "xs", "type": "quantitative",
 "axis": {"orient": "right", "values": [0.00025,0.0005,0.001,0.0025,0.005,0.01,0.025,0.05,0.1,0.25,0.5,1,2.5,5,10,25,50,100,250,500,1000,2500,5000,10000],
  "labels": false, "title": null, "grid": false, "domain": false, "tickSize": -4, "tickColor": "#000"}},
"color": {"datum": "Weighting : shem 281 group, PWR spectrum Weighted Cross section", "type": "nominal"}
}
}
],
"resolve": {"axis": {"x": "independent", "y": "independent"}}
}
